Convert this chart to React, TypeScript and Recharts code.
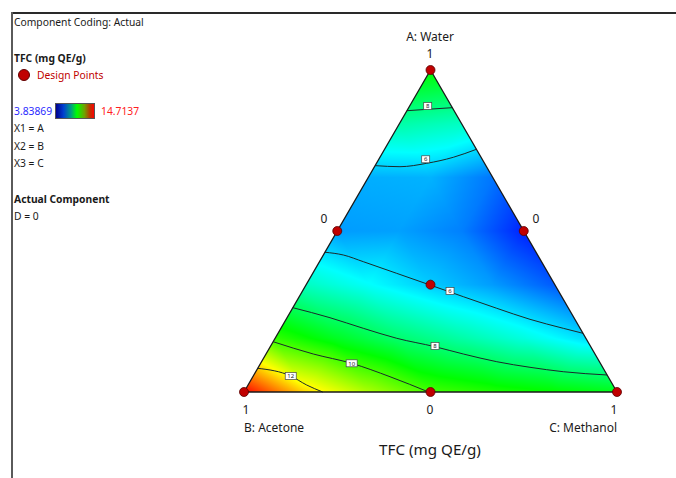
import React from "react";
import { ComposedChart, Area, Line, Scatter, XAxis, YAxis } from "recharts";

// ternary layout: a = Water (top), b = Acetone (left), c = Methanol (right)
const SQ = Math.sqrt(3) / 2;
const N = 6;
const VMIN = 3.83869;
const VMAX = 14.7137;

// response read at the simplex grid, row i -> Water = i/6, entry k -> Methanol = k/6
const row0 = [14.7, 12.4, 11.1, 10.0, 9.6, 9.3, 9.0];
const row1 = [9.8, 8.9, 8.1, 7.5, 6.9, 6.2];
const row2 = [7.2, 6.6, 6.0, 5.5, 4.8];
const row3 = [5.5, 5.55, 5.2, 4.2];
const row4 = [5.7, 5.75, 5.1];
const row5 = [7.5, 7.2];
const row6 = [9.3];
const grid = [row0, row1, row2, row3, row4, row5, row6];

const mapColors = ["#0000ff", "#00ffff", "#00ff00", "#ffff00", "#ff0000"];

// design points as [Water, Methanol]
const designPoints: [number, number][] = [
  [1, 0], [0, 0], [0, 1], [0.5, 0], [0.5, 0.5], [0, 0.5], [1 / 3, 1 / 3],
];

// contour lines as [Water, Methanol]
const contour6Top: [number, number][] = [
  [0.703, 0], [0.6997, 0.0683], [0.7102, 0.1347], [0.7289, 0.1967], [0.7537, 0.2463],
];
const contour8Top: [number, number][] = [[0.8736, 0], [0.878, 0.0535], [0.883, 0.117]];
const contour6Low: [number, number][] = [
  [0.434, 0], [0.4255, 0.0535], [0.4047, 0.1175], [0.3685, 0.2251], [0.3323, 0.3326],
  [0.296, 0.44], [0.26, 0.5475], [0.2257, 0.6539], [0.1978, 0.7571], [0.1823, 0.8177],
];
const contour8Low: [number, number][] = [
  [0.2618, 0], [0.2307, 0.1152], [0.1978, 0.2209], [0.1668, 0.326], [0.1407, 0.4417],
  [0.118, 0.529], [0.0941, 0.6305], [0.0767, 0.7284], [0.063, 0.8245], [0.0528, 0.9472],
];
const contour10: [number, number][] = [
  [0.1562, 0], [0.118, 0.1268], [0.0891, 0.2441], [0.0475, 0.3676], [0, 0.495],
];
const contour12: [number, number][] = [[0.0736, 0], [0.0497, 0.1004], [0.0217, 0.1572], [0, 0.211]];
const contours = [contour6Top, contour8Top, contour6Low, contour8Low, contour10, contour12];

const labelText = ["8", "6", "6", "8", "10", "12"];
const labelPos: [number, number][] = [
  [0.888, 0.0485], [0.7227, 0.1258], [0.3137, 0.3955], [0.1429, 0.4407], [0.0891, 0.2441], [0.0497, 0.1004],
];

const toXY = ([a, c]: [number, number]) => ({ x: c + a / 2, y: a * SQ });

function rgb(h: string) {
  return [1, 3, 5].map((i) => parseInt(h.slice(i, i + 2), 16));
}
function colorAt(v: number) {
  const t = Math.min(1, Math.max(0, (v - VMIN) / (VMAX - VMIN))) * 4;
  const i = Math.min(3, Math.floor(t));
  const f = t - i;
  const c0 = rgb(mapColors[i]);
  const c1 = rgb(mapColors[i + 1]);
  const m = c0.map((c, j) => Math.round(c + (c1[j] - c) * f));
  return `rgb(${m[0]},${m[1]},${m[2]})`;
}

type Stop = { offset: number; color: string };
function makeGrad(uv: [number, number][], vals: number[], al: number, be: number) {
  let mi = 0;
  let ma = 0;
  vals.forEach((v, j) => {
    if (v < vals[mi]) mi = j;
    if (v > vals[ma]) ma = j;
  });
  const fmin = vals[mi];
  const fmax = vals[ma];
  const span = fmax - fmin;
  const d2 = al * al + be * be;
  if (span < 1e-6 || d2 < 1e-12) {
    const c = colorAt(fmin);
    return { x1: 0, y1: 0, x2: 1, y2: 0, stops: [{ offset: 0, color: c }, { offset: 1, color: c }] };
  }
  const [u0, v0] = uv[mi];
  const stops: Stop[] = [{ offset: 0, color: colorAt(fmin) }];
  for (let s = 1; s < 4; s++) {
    const vs = VMIN + (s * (VMAX - VMIN)) / 4;
    if (vs > fmin && vs < fmax) stops.push({ offset: (vs - fmin) / span, color: mapColors[s] });
  }
  stops.push({ offset: 1, color: colorAt(fmax) });
  return { x1: u0, y1: v0, x2: u0 + (al * span) / d2, y2: v0 + (be * span) / d2, stops };
}

const cells: { id: string; data: { x: number; r: [number, number] }[]; grad: ReturnType<typeof makeGrad> }[] = [];
for (let i = 0; i < N; i++) {
  const yb = (i / N) * SQ;
  const yt = ((i + 1) / N) * SQ;
  for (let k = 0; k < N - i; k++) {
    const xl = toXY([i / N, k / N]).x;
    const xr = toXY([i / N, (k + 1) / N]).x;
    const xm = toXY([(i + 1) / N, k / N]).x;
    const v1 = grid[i][k];
    const v2 = grid[i][k + 1];
    const v3 = grid[i + 1][k];
    const al = v2 - v1;
    const ga = v3 - 0.5 * al;
    const be = v1 - ga;
    cells.push({
      id: `u${i}_${k}`,
      data: [{ x: xl, r: [yb, yb] }, { x: xm, r: [yb, yt] }, { x: xr, r: [yb, yb] }],
      grad: makeGrad([[0, 1], [1, 1], [0.5, 0]], [v1, v2, v3], al, be),
    });
    if (k < N - i - 1) {
      const xtl = toXY([(i + 1) / N, k / N]).x;
      const xtr = toXY([(i + 1) / N, (k + 1) / N]).x;
      const xb = toXY([i / N, (k + 1) / N]).x;
      const w1 = grid[i + 1][k];
      const w2 = grid[i + 1][k + 1];
      const w3 = grid[i][k + 1];
      const a2 = w2 - w1;
      const b2 = w3 - w1 - 0.5 * a2;
      cells.push({
        id: `d${i}_${k}`,
        data: [{ x: xtl, r: [yt, yt] }, { x: xb, r: [yb, yt] }, { x: xtr, r: [yt, yt] }],
        grad: makeGrad([[0, 0], [1, 0], [0.5, 1]], [w1, w2, w3], a2, b2),
      });
    }
  }
}

const outline = [toXY([0, 0]), toXY([1, 0]), toXY([0, 1]), toXY([0, 0])];
const designData = designPoints.map(toXY);
const labelData = labelPos.map((p, i) => ({ ...toXY(p), text: labelText[i] }));

const DesignDot = (props: any) => (
  <circle cx={props.cx} cy={props.cy} r={4.5} fill="#c00000" stroke="#5a0000" strokeWidth={0.8} />
);

const ContourTag = (props: any) => {
  const t = props.payload.text;
  const w = t.length > 1 ? 11 : 8;
  return (
    <g>
      <rect x={props.cx - w / 2} y={props.cy - 3.5} width={w} height={7} fill="#fff" stroke="#444" strokeWidth={0.7} />
      <text x={props.cx} y={props.cy + 2.2} textAnchor="middle" fontSize={6} fill="#222" fontFamily="Noto Sans">
        {t}
      </text>
    </g>
  );
};

const font = "'Noto Sans', 'Open Sans', sans-serif";
const T = ({ x, y, c, style, children }: any) => (
  <div
    style={{
      position: "absolute",
      left: x,
      top: y,
      transform: c ? "translate(-50%,-50%)" : "translateY(-50%)",
      whiteSpace: "nowrap",
      fontFamily: font,
      fontSize: 10.3,
      color: "#1a1a1a",
      lineHeight: 1,
      ...style,
    }}
  >
    {children}
  </div>
);

export default function App() {
  return (
    <div style={{ position: "absolute", left: 0, top: 0, width: 676, height: 478, background: "#fff", overflow: "hidden" }}>
      <style>{`.recharts-area-area{shape-rendering:crispEdges}`}</style>
      <svg width={0} height={0} style={{ position: "absolute" }}>
        <defs>
          {cells.map((cl) => (
            <linearGradient key={cl.id} id={`g_${cl.id}`} x1={cl.grad.x1} y1={cl.grad.y1} x2={cl.grad.x2} y2={cl.grad.y2}>
              {cl.grad.stops.map((s, j) => (
                <stop key={j} offset={s.offset} stopColor={s.color} />
              ))}
            </linearGradient>
          ))}
        </defs>
      </svg>
      <div style={{ position: "absolute", left: 11, top: 12, width: 665, height: 2, background: "#2a2a2a" }} />
      <div style={{ position: "absolute", left: 11, top: 12, width: 2, height: 466, background: "#5a5a5a" }} />

      <div style={{ position: "absolute", left: 0, top: 0 }}>
        <ComposedChart width={676} height={478} margin={{ top: 70, right: 59, bottom: 86, left: 244 }}>
          <XAxis type="number" dataKey="x" domain={[0, 1]} hide />
          <YAxis type="number" dataKey="y" domain={[0, SQ]} hide />
          {cells.map((cl) => (
            <Area
              key={cl.id}
              data={cl.data}
              dataKey="r"
              type="linear"
              fill={`url(#g_${cl.id})`}
              fillOpacity={1}
              stroke="none"
              dot={false}
              activeDot={false}
              isAnimationActive={false}
            />
          ))}
          {contours.map((cn, i) => (
            <Line
              key={`c${i}`}
              data={cn.map(toXY)}
              dataKey="y"
              type="monotone"
              stroke="#1a2a2a"
              strokeWidth={1}
              dot={false}
              activeDot={false}
              isAnimationActive={false}
            />
          ))}
          <Line data={outline} dataKey="y" type="linear" stroke="#1a1a1a" strokeWidth={1.3} dot={false} activeDot={false} isAnimationActive={false} />
          <Scatter data={labelData} shape={<ContourTag />} isAnimationActive={false} />
          <Scatter data={designData} shape={<DesignDot />} isAnimationActive={false} />
        </ComposedChart>
      </div>

      <T x={14} y={22}>Component Coding: Actual</T>
      <T x={14} y={58} style={{ fontWeight: 700 }}>TFC (mg QE/g)</T>
      <div style={{ position: "absolute", left: 18, top: 69, width: 12, height: 12, borderRadius: 6, background: "#c00000", border: "1px solid #600000", boxSizing: "border-box" }} />
      <T x={37} y={75} style={{ color: "#c00000" }}>Design Points</T>
      <T x={14} y={111} style={{ color: "#2a2aff" }}>3.83869</T>
      <div
        style={{
          position: "absolute",
          left: 55,
          top: 103,
          width: 40,
          height: 16,
          boxSizing: "border-box",
          border: "1px solid #555",
          background: "linear-gradient(to right, #000090, #0040d0 20%, #00a080 40%, #00ff00 55%, #70a000 75%, #c03000 90%, #ff0000)",
        }}
      />
      <T x={101} y={111} style={{ color: "#ff2020" }}>14.7137</T>
      <T x={14} y={128}>X1 = A</T>
      <T x={14} y={146}>X2 = B</T>
      <T x={14} y={163}>X3 = C</T>
      <T x={14} y={199} style={{ fontWeight: 700 }}>Actual Component</T>
      <T x={14} y={216}>D = 0</T>

      <T x={430} y={37} c style={{ fontSize: 12 }}>A: Water</T>
      <T x={430} y={54} c style={{ fontSize: 12 }}>1</T>
      <T x={324} y={219} c style={{ fontSize: 12 }}>0</T>
      <T x={536} y={219} c style={{ fontSize: 12 }}>0</T>
      <T x={246} y={410} c style={{ fontSize: 12 }}>1</T>
      <T x={430} y={410} c style={{ fontSize: 12 }}>0</T>
      <T x={614} y={410} c style={{ fontSize: 12 }}>1</T>
      <T x={244} y={428} style={{ fontSize: 12 }}>B: Acetone</T>
      <div style={{ position: "absolute", right: 59, top: 428, transform: "translateY(-50%)", fontFamily: font, fontSize: 12, color: "#1a1a1a", lineHeight: 1, whiteSpace: "nowrap" }}>
        C: Methanol
      </div>
      <T x={430} y={450} c style={{ fontSize: 15.2 }}>TFC (mg QE/g)</T>
    </div>
  );
}
